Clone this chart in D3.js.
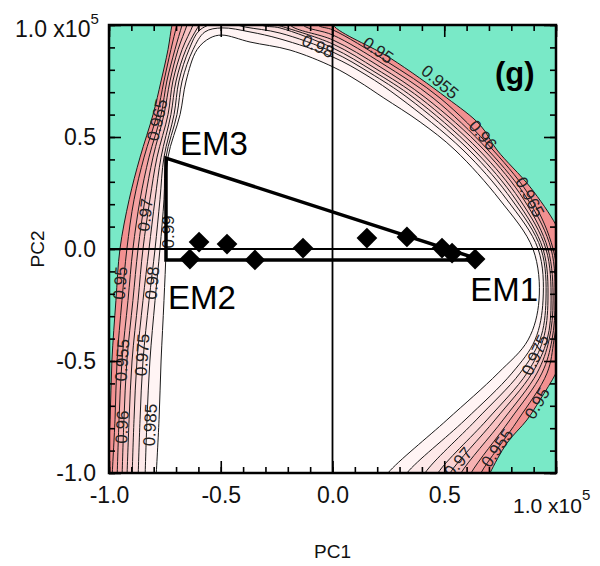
<!DOCTYPE html>
<html>
<head>
<meta charset="utf-8">
<script src="https://cdn.jsdelivr.net/npm/d3@7"></script>
<style>
body { margin: 0; background: #fff; }
text { font-family: "Liberation Sans", Arial, sans-serif; }
</style>
</head>
<body>
<div id="chart"></div>
<script>
// contour levels, each line as [PC1, PC2] in units of 1e5
var levels = [0.95, 0.955, 0.96, 0.965, 0.97, 0.975, 0.98, 0.985, 0.99];

var c950 = [[-1.01,-1.03],[-0.995,-0.76],[-0.987,-0.5],[-0.969,-0.23],[-0.951,0],[-0.91,0.22],[-0.861,0.41],[-0.803,0.6],[-0.767,0.75],[-0.736,0.89],[-0.718,1.0],[-0.705,1.045],[-0.011,1.045],[0.002,1.0],[0.257,0.853],[0.512,0.674],[0.66,0.554],[0.736,0.442],[0.884,0.277],[1.0,0.107],[1.045,0.0],[1.045,-0.45],[1.0,-0.554],[0.928,-0.674],[0.87,-0.763],[0.781,-0.866],[0.705,-1.0],[0.682,-1.054]];
var c955 = [[-0.987,-1.03],[-0.973,-0.76],[-0.964,-0.5],[-0.942,-0.23],[-0.92,0],[-0.888,0.22],[-0.843,0.41],[-0.785,0.6],[-0.754,0.75],[-0.723,0.89],[-0.696,1.0],[-0.682,1.045],[-0.078,1.045],[-0.065,1.0],[0.002,0.978],[0.24,0.839],[0.481,0.674],[0.718,0.442],[0.893,0.219],[0.987,0],[1.013,-0.228],[0.991,-0.406],[0.96,-0.554],[0.83,-0.763],[0.664,-1.0],[0.642,-1.054]];
var c960 = [[-0.964,-1.03],[-0.955,-0.76],[-0.942,-0.5],[-0.915,-0.23],[-0.893,0],[-0.861,0.22],[-0.821,0.41],[-0.767,0.6],[-0.741,0.75],[-0.705,0.89],[-0.673,1.0],[-0.66,1.045],[-0.145,1.045],[-0.132,1.0],[0.002,0.955],[0.226,0.826],[0.45,0.674],[0.696,0.442],[0.875,0.219],[0.978,0],[0.996,-0.228],[0.982,-0.406],[0.937,-0.554],[0.794,-0.763],[0.62,-1.0],[0.597,-1.054]];
var c965 = [[-0.942,-1.03],[-0.933,-0.76],[-0.92,-0.5],[-0.893,-0.23],[-0.87,0],[-0.839,0.22],[-0.803,0.41],[-0.754,0.6],[-0.727,0.75],[-0.691,0.89],[-0.651,1.0],[-0.638,1.045],[-0.204,1.045],[-0.19,1.0],[0.002,0.933],[0.213,0.813],[0.418,0.674],[0.678,0.442],[0.857,0.219],[0.964,0],[0.987,-0.228],[0.969,-0.406],[0.915,-0.554],[0.763,-0.763],[0.575,-1.0],[0.552,-1.054]];
var c970 = [[-0.92,-1.03],[-0.91,-0.76],[-0.897,-0.5],[-0.87,-0.23],[-0.848,0],[-0.817,0.22],[-0.785,0.41],[-0.736,0.6],[-0.714,0.75],[-0.673,0.89],[-0.624,1.0],[-0.611,1.04],[-0.262,1.04],[-0.248,1.0],[-0.235,0.996],[0.002,0.915],[0.195,0.804],[0.392,0.674],[0.655,0.442],[0.839,0.219],[0.955,0],[0.978,-0.228],[0.96,-0.406],[0.893,-0.554],[0.727,-0.763],[0.526,-1.0],[0.503,-1.054]];
var c975 = [[-0.897,-1.03],[-0.888,-0.76],[-0.875,-0.5],[-0.848,-0.23],[-0.821,0],[-0.794,0.22],[-0.767,0.41],[-0.723,0.6],[-0.7,0.75],[-0.656,0.89],[-0.597,1.0],[-0.579,1.031],[-0.333,1.031],[-0.315,1.0],[-0.235,0.987],[0.002,0.897],[0.181,0.795],[0.365,0.674],[0.633,0.442],[0.821,0.219],[0.942,0],[0.964,-0.228],[0.942,-0.406],[0.87,-0.554],[0.691,-0.763],[0.472,-1.0],[0.45,-1.054]];
var c980 = [[-0.87,-1.03],[-0.861,-0.76],[-0.848,-0.5],[-0.821,-0.23],[-0.794,0],[-0.772,0.22],[-0.754,0.41],[-0.709,0.6],[-0.687,0.75],[-0.642,0.89],[-0.593,0.978],[-0.494,1.013],[-0.391,0.991],[-0.235,0.964],[0.002,0.879],[0.168,0.786],[0.338,0.674],[0.611,0.442],[0.803,0.219],[0.933,0],[0.955,-0.228],[0.928,-0.406],[0.839,-0.554],[0.643,-0.763],[0.414,-1.0],[0.391,-1.054]];
var c985 = [[-0.839,-1.03],[-0.83,-0.76],[-0.817,-0.5],[-0.794,-0.23],[-0.772,0],[-0.754,0.22],[-0.745,0.41],[-0.696,0.6],[-0.673,0.75],[-0.624,0.89],[-0.571,0.969],[-0.494,0.987],[-0.369,0.969],[-0.235,0.938],[0.002,0.857],[0.15,0.777],[0.302,0.674],[0.584,0.442],[0.781,0.219],[0.92,0],[0.942,-0.228],[0.906,-0.406],[0.803,-0.554],[0.593,-0.763],[0.333,-1.0],[0.302,-1.054]];
var c990 = [[-0.79,-1.03],[-0.776,-0.76],[-0.767,-0.5],[-0.754,-0.23],[-0.745,0],[-0.745,0.22],[-0.736,0.41],[-0.682,0.6],[-0.655,0.75],[-0.606,0.89],[-0.548,0.942],[-0.494,0.955],[-0.369,0.924],[-0.19,0.888],[0.002,0.813],[0.114,0.75],[0.23,0.674],[0.392,0.567],[0.548,0.442],[0.749,0.219],[0.897,0],[0.924,-0.228],[0.875,-0.406],[0.741,-0.554],[0.512,-0.763],[0.248,-1.0],[0.213,-1.054]];
var contourLines = [c950, c955, c960, c965, c970, c975, c980, c985, c990];

// where the level labels sit on the lines: [text, PC1, PC2, angle]
var contourLabels = [
  ["0.98", -0.065, 0.906, 25], ["0.95", 0.204, 0.888, 35], ["0.955", 0.481, 0.746, 40],
  ["0.96", 0.673, 0.509, 50], ["0.965", 0.884, 0.232, 62],
  ["0.965", -0.785, 0.576, -77], ["0.97", -0.839, 0.152, -84], ["0.99", -0.736, 0.076, -90],
  ["0.95", -0.951, -0.152, -85], ["0.98", -0.808, -0.152, -85], ["0.955", -0.942, -0.496, -86],
  ["0.975", -0.852, -0.473, -86], ["0.96", -0.942, -0.795, -87], ["0.985", -0.817, -0.786, -87],
  ["0.975", 0.906, -0.473, -65], ["0.95", 0.915, -0.688, -60], ["0.955", 0.736, -0.888, -55],
  ["0.97", 0.562, -0.951, -50]
];

// samples
var samplePC1 = [-0.597, -0.638, -0.472, -0.347, -0.132, 0.154, 0.333, 0.49, 0.535, 0.638];
var samplePC2 = [0.031, -0.045, 0.022, -0.049, 0.004, 0.049, 0.054, 0.004, -0.018, -0.045];

// end members (triangle corners)
var emNames = ["EM1", "EM2", "EM3"];
var emPC1 = [0.665, -0.745, -0.745];
var emPC2 = [-0.049, -0.049, 0.406];

var majorTicks = [-1, -0.5, 0, 0.5, 1];
var minorTicks = d3.range(-10, 11).map(function(d) { return d / 10; });
var tickLabels = [-1, -0.5, 0, 0.5];

var green = "#79e9c7";
var bandFill = ["#f29090", "#f4a2a2", "#f6b2b2", "#f8c2c2", "#fad1d1", "#fbdede", "#fde9e9", "#fff4f4", "#ffffff"];

var width = 600, height = 566;
var plotL = 109, plotR = 556, plotT = 25, plotB = 473;

var svg = d3.select("#chart").append("svg")
    .attr("width", width)
    .attr("height", height);

var x = d3.scaleLinear().domain([-1, 1]).range([plotL, plotR]);
var y = d3.scaleLinear().domain([-1, 1]).range([plotB, plotT]);

svg.append("clipPath").attr("id", "plotclip")
  .append("rect")
    .attr("x", plotL).attr("y", plotT)
    .attr("width", plotR - plotL).attr("height", plotB - plotT);

var plot = svg.append("g").attr("clip-path", "url(#plotclip)");

plot.append("rect")
    .attr("x", plotL).attr("y", plotT)
    .attr("width", plotR - plotL).attr("height", plotB - plotT)
    .attr("fill", green);

var line = d3.line()
    .x(function(d) { return x(d[0]); })
    .y(function(d) { return y(d[1]); })
    .curve(d3.curveCatmullRom.alpha(0.5));

// filled bands, outer level first
plot.selectAll("path.band")
    .data(contourLines)
  .join("path")
    .attr("class", "band")
    .attr("d", function(d) { return line(d) + "Z"; })
    .attr("fill", function(d, i) { return bandFill[i]; })
    .attr("stroke", "none");

plot.selectAll("path.iso")
    .data(contourLines)
  .join("path")
    .attr("class", "iso")
    .attr("d", line)
    .attr("fill", "none")
    .attr("stroke", "#1a1a1a")
    .attr("stroke-width", 1);

plot.selectAll("text.lev")
    .data(contourLabels)
  .join("text")
    .attr("class", "lev")
    .attr("transform", function(d) { return "translate(" + x(d[1]) + "," + y(d[2]) + ") rotate(" + d[3] + ")"; })
    .attr("text-anchor", "middle")
    .attr("dy", "0.35em")
    .attr("font-size", 17)
    .attr("fill", "#222")
    .text(function(d) { return d[0]; });

// zero lines
plot.append("line")
    .attr("x1", x(0)).attr("x2", x(0)).attr("y1", y(-1)).attr("y2", y(1))
    .attr("stroke", "#000").attr("stroke-width", 1.8);
plot.append("line")
    .attr("x1", x(-1)).attr("x2", x(1)).attr("y1", y(0)).attr("y2", y(0))
    .attr("stroke", "#000").attr("stroke-width", 1.8);

// mixing triangle
var tri = d3.range(emNames.length).map(function(i) { return [emPC1[i], emPC2[i]]; });
plot.append("path")
    .attr("d", d3.line().x(function(d) { return x(d[0]); }).y(function(d) { return y(d[1]); })(tri) + "Z")
    .attr("fill", "none")
    .attr("stroke", "#000")
    .attr("stroke-width", 3.5)
    .attr("stroke-linejoin", "miter");

plot.selectAll("path.pt")
    .data(samplePC1)
  .join("path")
    .attr("class", "pt")
    .attr("d", d3.symbol(d3.symbolSquare, 215))
    .attr("transform", function(d, i) { return "translate(" + x(d) + "," + y(samplePC2[i]) + ") rotate(45)"; })
    .attr("fill", "#000");

// frame
svg.append("rect")
    .attr("x", plotL).attr("y", plotT)
    .attr("width", plotR - plotL).attr("height", plotB - plotT)
    .attr("fill", "none")
    .attr("stroke", "#000")
    .attr("stroke-width", 2.5);

// inward ticks on all four sides
function tickSide(axisFn, scale, vals, size, tr) {
  var g = svg.append("g")
      .attr("transform", tr)
      .call(axisFn(scale).tickValues(vals).tickSize(-size).tickFormat(""));
  g.select(".domain").remove();
  g.selectAll("line").attr("stroke", "#000").attr("stroke-width", 1.6);
}
tickSide(d3.axisBottom, x, minorTicks, 6, "translate(0," + plotB + ")");
tickSide(d3.axisBottom, x, majorTicks, 12, "translate(0," + plotB + ")");
tickSide(d3.axisTop, x, minorTicks, 6, "translate(0," + plotT + ")");
tickSide(d3.axisTop, x, majorTicks, 12, "translate(0," + plotT + ")");
tickSide(d3.axisLeft, y, minorTicks, 6, "translate(" + plotL + ",0)");
tickSide(d3.axisLeft, y, majorTicks, 12, "translate(" + plotL + ",0)");
tickSide(d3.axisRight, y, minorTicks, 6, "translate(" + plotR + ",0)");
tickSide(d3.axisRight, y, majorTicks, 12, "translate(" + plotR + ",0)");

// tick labels
var xl = svg.append("g")
    .attr("transform", "translate(0," + plotB + ")")
    .call(d3.axisBottom(x).tickValues(tickLabels).tickSize(0).tickPadding(14)
      .tickFormat(function(d) { return d.toFixed(1); }));
xl.select(".domain").remove();
xl.attr("font-size", 23).attr("font-family", "Liberation Sans, Arial, sans-serif");
xl.selectAll("text").attr("fill", "#111");

var yl = svg.append("g")
    .attr("transform", "translate(" + plotL + ",0)")
    .call(d3.axisLeft(y).tickValues(tickLabels).tickSize(0).tickPadding(13)
      .tickFormat(function(d) { return d.toFixed(1); }));
yl.select(".domain").remove();
yl.attr("font-size", 23).attr("font-family", "Liberation Sans, Arial, sans-serif");
yl.selectAll("text").attr("fill", "#111");

// the "1.0 x10^5" end labels
var topLab = svg.append("text").attr("x", 15).attr("y", 37).attr("font-size", 23).attr("fill", "#111");
topLab.append("tspan").text("1.0 x10");
topLab.append("tspan").attr("dy", -13).attr("font-size", 15).text("5");

var botLab = svg.append("text").attr("x", 513).attr("y", 513).attr("font-size", 21).attr("fill", "#111");
botLab.append("tspan").text("1.0 x10");
botLab.append("tspan").attr("dy", -13).attr("font-size", 15).text("5");

// axis titles
svg.append("text")
    .attr("x", (plotL + plotR) / 2).attr("y", 558)
    .attr("text-anchor", "middle")
    .attr("font-size", 19)
    .attr("fill", "#111")
    .text("PC1");
svg.append("text")
    .attr("transform", "translate(44," + (plotT + plotB) / 2 + ") rotate(-90)")
    .attr("text-anchor", "middle")
    .attr("font-size", 19)
    .attr("fill", "#111")
    .text("PC2");

// end member names and panel letter
var emOffset = [[-11, 41], [2, 49], [14, -3]];
svg.selectAll("text.em")
    .data(emNames)
  .join("text")
    .attr("class", "em")
    .attr("x", function(d, i) { return x(emPC1[i]) + emOffset[i][0]; })
    .attr("y", function(d, i) { return y(emPC2[i]) + emOffset[i][1]; })
    .attr("font-family", "Lato, 'Open Sans', sans-serif")
    .attr("font-size", 33)
    .attr("fill", "#000")
    .text(function(d) { return d; });

svg.append("text")
    .attr("x", 495).attr("y", 84)
    .attr("font-family", "Lato, 'Open Sans', sans-serif")
    .attr("font-weight", "bold")
    .attr("font-size", 31)
    .attr("fill", "#000")
    .text("(g)");
</script>
</body>
</html>
